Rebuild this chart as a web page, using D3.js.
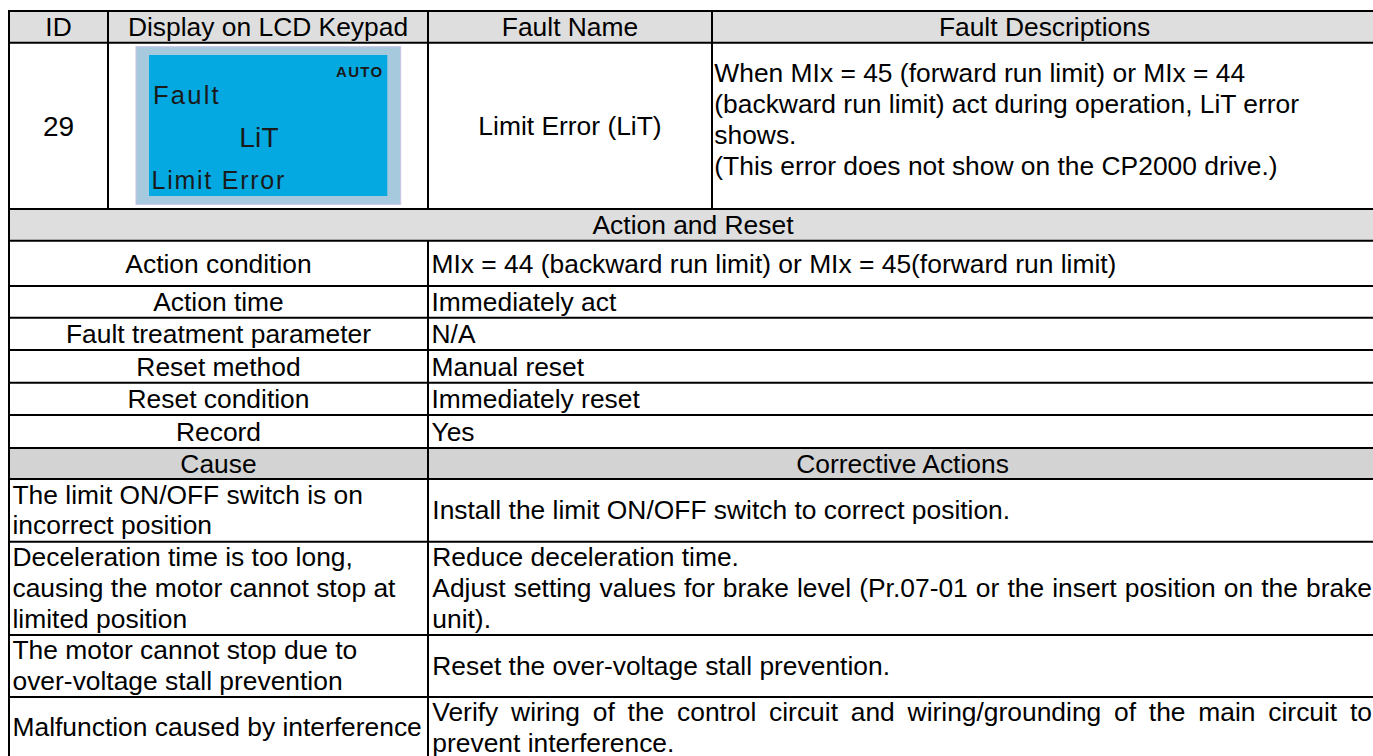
<!DOCTYPE html>
<html><head><meta charset="utf-8">
<script src="https://cdn.jsdelivr.net/npm/d3@7"></script>
<style>html,body{margin:0;padding:0;background:#fff;overflow:hidden}</style>
</head><body>
<svg id="c" width="1373" height="756"></svg>
<script>
// ---------- data ----------
const headers = ["ID", "Display on LCD Keypad", "Fault Name", "Fault Descriptions"];
const faultId = "29";
const lcdAuto = "AUTO";
const lcdLines = ["Fault", "LiT", "Limit Error"];
const faultName = "Limit Error (LiT)";
const descLines = [
  "When MIx = 45 (forward run limit) or MIx = 44",
  "(backward run limit) act during operation, LiT error",
  "shows.",
  "(This error does not show on the CP2000 drive.)"
];
const sectionTitle = "Action and Reset";
const actionLabels = ["Action condition", "Action time", "Fault treatment parameter",
  "Reset method", "Reset condition", "Record"];
const actionValues = ["MIx = 44 (backward run limit) or MIx = 45(forward run limit)",
  "Immediately act", "N/A", "Manual reset", "Immediately reset", "Yes"];
const causeHeaders = ["Cause", "Corrective Actions"];
const causes = [
  ["The limit ON/OFF switch is on", "incorrect position"],
  ["Deceleration time is too long,", "causing the motor cannot stop at", "limited position"],
  ["The motor cannot stop due to", "over-voltage stall prevention"],
  ["Malfunction caused by interference"]
];
// each corrective entry: paragraphs, each paragraph = wrapped lines
const corrective = [
  [["Install the limit ON/OFF switch to correct position."]],
  [["Reduce deceleration time."],
   ["Adjust setting values for brake level (Pr.07-01 or the insert position on the brake", "unit)."]],
  [["Reset the over-voltage stall prevention."]],
  [["Verify wiring of the control circuit and wiring/grounding of the main circuit to", "prevent interference."]]
];

// ---------- layout ----------
const FONT = "'Liberation Sans', Arial, Helvetica, sans-serif";
const FS = 26.4, LH = 30.8, BOFF = 9.2;
const colX = [9, 108, 428, 712, 1377];
const rowY = {
  top: 11, head: 42.7, lcd: 209, sect: 240.7,
  action: [286, 317.7, 350, 382.7, 415, 448],
  causeHead: 479,
  cause: [541.7, 635, 697, 758]
};
const padL = 3.5, textRight = 1372;

const svg = d3.select("#c");
const g = svg.append("g");

function addText(sel, txt, x, y, anchor, opts = {}) {
  return sel.append("text").attr("x", x).attr("y", y)
    .attr("text-anchor", anchor || "start")
    .attr("font-family", opts.family || FONT)
    .attr("font-size", opts.size || FS)
    .attr("font-weight", opts.weight || "normal")
    .attr("letter-spacing", opts.ls || 0)
    .attr("fill", opts.fill || "#000")
    .text(txt);
}

// ---------- backgrounds ----------
const bgs = [
  { x0: colX[0], x1: colX[4], y0: rowY.top, y1: rowY.head, c: "#dedede" },
  { x0: colX[0], x1: colX[4], y0: rowY.lcd, y1: rowY.sect, c: "#dedede" },
  { x0: colX[0], x1: colX[4], y0: rowY.action[5], y1: rowY.causeHead, c: "#d3d3d3" }
];
g.selectAll("rect.bg").data(bgs).join("rect").attr("class", "bg")
  .attr("x", d => d.x0).attr("y", d => d.y0)
  .attr("width", d => d.x1 - d.x0).attr("height", d => d.y1 - d.y0)
  .attr("fill", d => d.c);

// ---------- LCD ----------
const lcd = g.append("g");
lcd.append("rect").attr("x", 136).attr("y", 46.7).attr("width", 264.7).attr("height", 157.6)
  .attr("fill", "#a6c9dd").attr("stroke", "#c9c2e6").attr("stroke-width", 1);
lcd.append("rect").attr("x", 149).attr("y", 55).attr("width", 238.3).attr("height", 141)
  .attr("fill", "#04a9e1");
addText(lcd, lcdAuto, 383.5, 76.7, "end", { size: 15, weight: "bold", ls: 1.3, fill: "#1a1a1a" });
const lcdPos = [
  { x: 153, y: 104.3, s: 25.6, ls: 2.2 },
  { x: 239.3, y: 146.7, s: 28, ls: 0.2 },
  { x: 151.5, y: 188.8, s: 25, ls: 1.75 }
];
lcd.selectAll("text.l").data(lcdLines).join("text").attr("class", "l")
  .attr("x", (d, i) => lcdPos[i].x).attr("y", (d, i) => lcdPos[i].y)
  .attr("font-family", FONT).attr("font-size", (d, i) => lcdPos[i].s)
  .attr("letter-spacing", (d, i) => lcdPos[i].ls).attr("fill", "#1a1a1a")
  .text(d => d);

// ---------- header ----------
g.selectAll("text.h").data(headers).join("text").attr("class", "h")
  .attr("x", (d, i) => (colX[i] + colX[i + 1]) / 2)
  .attr("y", (rowY.top + rowY.head) / 2 + BOFF)
  .attr("text-anchor", "middle").attr("font-family", FONT).attr("font-size", FS)
  .text(d => d);

// row 1
const r1c = (rowY.head + rowY.lcd) / 2;
addText(g, faultId, (colX[0] + colX[1]) / 2, r1c + 10.5, "middle", { size: 28 });
addText(g, faultName, (colX[2] + colX[3]) / 2, r1c + BOFF, "middle");
g.selectAll("text.desc").data(descLines).join("text").attr("class", "desc")
  .attr("x", colX[3] + 2.3).attr("y", (d, i) => 82.4 + i * LH * 0.997)
  .attr("font-family", FONT).attr("font-size", FS).text(d => d);

// section title
addText(g, sectionTitle, (colX[0] + colX[4]) / 2, (rowY.lcd + rowY.sect) / 2 + BOFF, "middle");

// action rows
const aTops = [rowY.sect].concat(rowY.action.slice(0, 5));
const aRows = actionLabels.map((l, i) => ({ l, v: actionValues[i], c: (aTops[i] + rowY.action[i]) / 2 }));
g.selectAll("text.al").data(aRows).join("text").attr("class", "al")
  .attr("x", (colX[0] + colX[2]) / 2).attr("y", d => d.c + BOFF)
  .attr("text-anchor", "middle").attr("font-family", FONT).attr("font-size", FS).text(d => d.l);
g.selectAll("text.av").data(aRows).join("text").attr("class", "av")
  .attr("x", colX[2] + padL).attr("y", d => d.c + BOFF)
  .attr("font-family", FONT).attr("font-size", FS).text(d => d.v);

// cause header
g.selectAll("text.ch").data(causeHeaders).join("text").attr("class", "ch")
  .attr("x", (d, i) => i === 0 ? (colX[0] + colX[2]) / 2 : (colX[2] + colX[4]) / 2)
  .attr("y", (rowY.action[5] + rowY.causeHead) / 2 + BOFF)
  .attr("text-anchor", "middle").attr("font-family", FONT).attr("font-size", FS).text(d => d);

// cause rows
const cTops = [rowY.causeHead].concat(rowY.cause.slice(0, 3));
causes.forEach((lines, i) => {
  const c = (cTops[i] + rowY.cause[i]) / 2;
  const y0 = c - (lines.length - 1) * LH / 2 + BOFF - 0.5;
  g.selectAll("text.cz" + i).data(lines).join("text").attr("class", "cz" + i)
    .attr("x", colX[0] + padL).attr("y", (d, k) => y0 + k * LH)
    .attr("font-family", FONT).attr("font-size", FS).text(d => d);
});

// measuring helper
const meas = svg.append("text").attr("font-family", FONT).attr("font-size", FS).attr("x", -9999).attr("y", -9999);
function wordW(w) { meas.text(w); return meas.node().getComputedTextLength(); }

corrective.forEach((paras, i) => {
  const lines = [];
  paras.forEach(p => p.forEach((t, k) => lines.push({ t, just: k < p.length - 1 })));
  const c = (cTops[i] + rowY.cause[i]) / 2;
  const y0 = c - (lines.length - 1) * LH / 2 + BOFF - 0.5;
  lines.forEach((ln, k) => {
    const y = y0 + k * LH;
    const x0 = colX[2] + padL + 0.8;
    if (!ln.just) {
      addText(g, ln.t, x0, y, "start");
    } else {
      const words = ln.t.split(" ");
      const ws = words.map(wordW);
      const tot = d3.sum(ws);
      const gap = (textRight - x0 - tot) / (words.length - 1);
      let x = x0;
      const pos = ws.map(w => { const p = x; x += w + gap; return p; });
      g.selectAll(null).data(words).join("text")
        .attr("x", (d, j) => pos[j]).attr("y", y)
        .attr("font-family", FONT).attr("font-size", FS).text(d => d);
    }
  });
});
meas.remove();

// ---------- grid lines ----------
const hLines = [
  { y: rowY.top, x0: colX[0], x1: colX[4] },
  { y: rowY.head, x0: colX[0], x1: colX[4] },
  { y: rowY.lcd, x0: colX[0], x1: colX[4] },
  { y: rowY.sect, x0: colX[0], x1: colX[4] }
].concat(rowY.action.map(y => ({ y, x0: colX[0], x1: colX[4] })))
 .concat([{ y: rowY.causeHead, x0: colX[0], x1: colX[4] }])
 .concat(rowY.cause.map(y => ({ y, x0: colX[0], x1: colX[4] })));
const vLines = [
  { x: colX[0], y0: rowY.top, y1: rowY.cause[3] },
  { x: colX[1], y0: rowY.top, y1: rowY.lcd },
  { x: colX[2], y0: rowY.top, y1: rowY.lcd },
  { x: colX[3], y0: rowY.top, y1: rowY.lcd },
  { x: colX[2], y0: rowY.sect, y1: rowY.cause[3] },
  { x: colX[4], y0: rowY.top, y1: rowY.cause[3] }
];
g.selectAll("line.h").data(hLines).join("line").attr("class", "h")
  .attr("x1", d => d.x0 - 1).attr("x2", d => d.x1 + 1).attr("y1", d => d.y).attr("y2", d => d.y)
  .attr("stroke", "#000").attr("stroke-width", 2);
g.selectAll("line.v").data(vLines).join("line").attr("class", "v")
  .attr("x1", d => d.x).attr("x2", d => d.x).attr("y1", d => d.y0).attr("y2", d => d.y1)
  .attr("stroke", "#000").attr("stroke-width", 2);
</script>
</body></html>
